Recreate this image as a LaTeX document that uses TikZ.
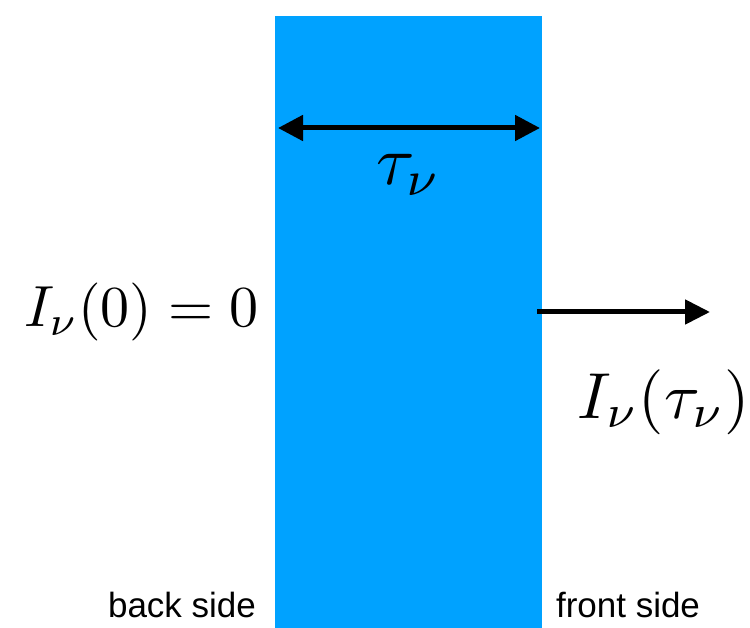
\documentclass[tikz,border=0pt]{standalone}
\usepackage{fontspec}
\newfontfamily\labelsans{Liberation Sans}
\usetikzlibrary{arrows.meta}
\definecolor{slabblue}{RGB}{0,162,255}
\tikzset{
  slabstyle/.style={fill=slabblue, draw=none, inner sep=0pt, minimum width=267pt, minimum height=612pt},
  mathlbl/.style={anchor=base, inner sep=0pt},
  sidelbl/.style={anchor=base, inner sep=0pt, font=\labelsans\fontsize{35}{40}\selectfont},
  arr/.style={line width=5pt, -{Triangle[length=25pt,width=24pt]}},
  dblarr/.style={line width=5pt, {Triangle[length=25pt,width=25pt]}-{Triangle[length=25pt,width=25pt]}}
}
\begin{document}
\begin{tikzpicture}[x=1pt,y=-1pt]
\useasboundingbox (0,0) rectangle (750,628);
\node[slabstyle] (slab) at (408.5,322) {};
\coordinate (dl) at (278,128);
\coordinate (dr) at (540,128);
\draw[dblarr] (dl) -- (dr);
\node[mathlbl] (tau) at (409,185) {\scalebox{7.0}{$\tau_\nu$}};
\node[mathlbl] (i0) at (141.5,327) {\scalebox{5.8}{$I_\nu(0)=0$}};
\coordinate (os) at (537,312);
\coordinate (oe) at (710,312);
\draw[arr] (os) -- (oe);
\node[mathlbl] (itau) at (664,418) {\scalebox{6.5}{$I_\nu(\tau_\nu)$}};
\node[sidelbl] (back) at (182,617) {back side};
\node[sidelbl] (front) at (628,617) {front side};
\end{tikzpicture}
\end{document}
